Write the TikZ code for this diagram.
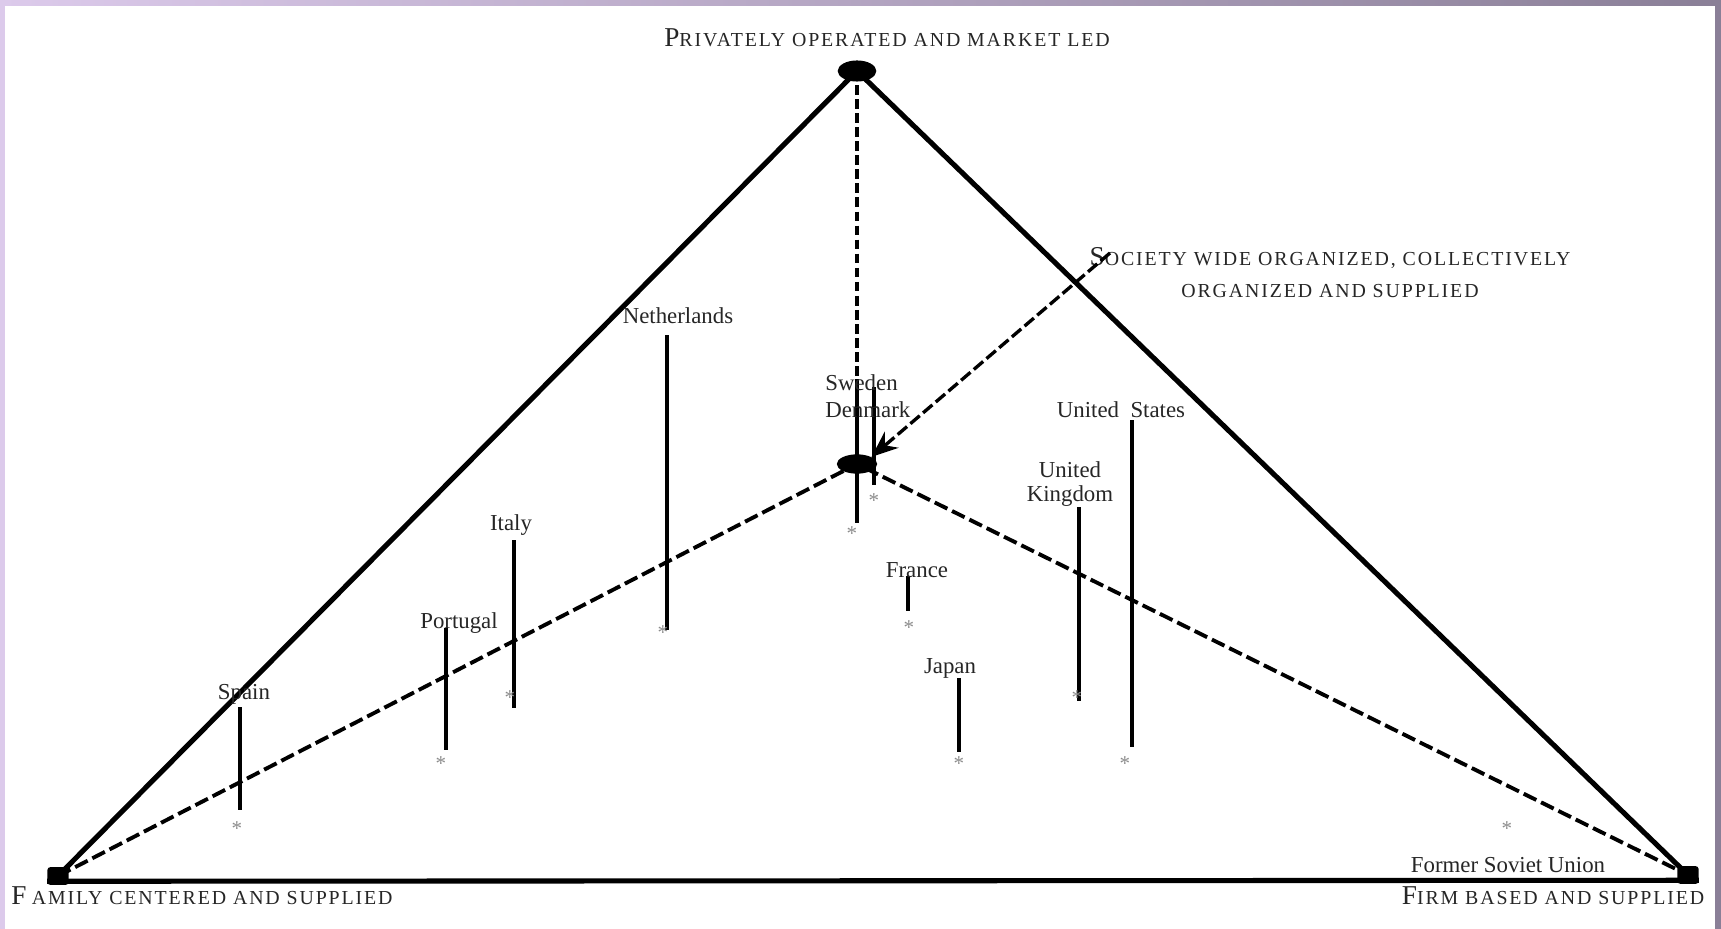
\documentclass[tikz,border=0pt]{standalone}
\usepackage{amsmath, amssymb}
\usepackage{fontspec}
\setmainfont{Liberation Serif}
\newfontfamily\spacedfont[LetterSpace=9.5]{Liberation Serif}
\usepackage{tikz}
\usepackage{xcolor}
\usetikzlibrary{shapes,arrows.meta,positioning,calc}
\definecolor{frameleft}{HTML}{DCCAEB}
\definecolor{frameright}{HTML}{8A7F97}
\definecolor{stargray}{HTML}{8C8C8C}
\definecolor{inkgray}{HTML}{262626}
\newcommand{\capsline}[2]{{\fontsize{15.5}{18.5}\spacedfont #1}{\fontsize{11.3}{18.5}\spacedfont #2}}

\begin{document}
\begin{tikzpicture}[x=0.02cm, y=-0.02cm, font=\fontsize{13}{15}\selectfont, text=inkgray,
    edge/.style={line width=2.9pt},
    dashedge/.style={line width=2.2pt, dash pattern=on 8pt off 3pt},
    axisedge/.style={line width=1.8pt, dash pattern=on 5.5pt off 2.5pt},
    bar/.style={line width=2pt},
    pointer/.style={line width=1.9pt, dash pattern=on 7pt off 2.5pt, -{Stealth[length=15pt,width=12pt]}},
    blob/.style={ellipse, fill, inner sep=0pt, minimum width=23pt, minimum height=11pt},
    corner/.style={rectangle, rounded corners=1.5pt, fill, inner sep=0pt, minimum width=12pt, minimum height=10pt},
    country/.style={anchor=base, inner sep=0pt},
    starmark/.style={text=stargray, inner sep=0pt, font=\fontsize{12}{13}\selectfont},
    pole/.style={inner sep=0pt, align=center}]
        \useasboundingbox (0,0) rectangle (1721,929);
        \shade[left color=frameleft, right color=frameright] (0,0) rectangle (1721,929);
        \fill[white] (5,6) rectangle (1715,929);
        \node[blob, minimum width=22pt, minimum height=12pt] (priv) at (857,71) {};
        \node[blob] (soc) at (857,464) {};
        \node[corner] (fam) at (58,876) {};
        \node[corner] (firm) at (1688,875) {};
        \draw[edge] (fam.center) -- (priv.center) -- (firm.center);
        \draw[edge] ([yshift=-3pt]fam.west) -- ([yshift=-3pt]firm.east);
        \draw[dashedge] (fam.center) -- (soc.center) -- (firm.center);
        \draw[axisedge] (priv.center) -- (soc.center);
        \node[pole, anchor=base] (privlab) at (887,47) {\capsline{P}{RIVATELY OPERATED AND MARKET LED}};
        \node[pole, anchor=base] (famlab) at (202,904) {\capsline{F\hspace{3pt}}{AMILY CENTERED AND SUPPLIED}};
        \node[pole, anchor=base] (firmlab) at (1553,904) {\capsline{F}{IRM BASED AND SUPPLIED}};
        \node[pole, anchor=north, font=\fontsize{11.3}{18.5}\selectfont] (soclab) at (1330,247)
            {\capsline{S}{OCIETY WIDE ORGANIZED, COLLECTIVELY}\\{\spacedfont ORGANIZED AND SUPPLIED}};
        \coordinate (arrtail) at (1110,253);
        \draw[pointer] (arrtail) -- (soc.north east);
        \foreach \name/\x/\ytop/\ybot/\sx/\sy in {spain/240/707/810/237/826, portugal/446/628/750/441/761,
            italy/514/540/708/510/695, netherlands/667/335/630/663/630, sweden/857/379/523/852/531,
            denmark/874/387/485/874/498, france/908/576/611/909/625, japan/959/678/752/959/761,
            uk/1079/507/701/1077/695, us/1132/420/747/1125/761}
        {
            \coordinate (\name-top) at (\x,\ytop);
            \coordinate (\name-bot) at (\x,\ybot);
            \draw[bar] (\name-top) -- (\name-bot);
            \node[starmark] (\name-star) at (\sx,\sy+3) {*};
        }
        \node[starmark] (fsu-star) at (1507,829) {*};
        \node[country] (spain) at (244,699) {Spain};
        \node[country] (portugal) at (459,628) {Portugal};
        \node[country] (italy) at (511,530) {Italy};
        \node[country] (netherlands) at (678,323) {Netherlands};
        \node[country, anchor=base west] (sweden) at (825,390) {Sweden};
        \node[country, anchor=base west] (denmark) at (825,417) {Denmark};
        \node[country] (france) at (917,577) {France};
        \node[country] (japan) at (950,673) {Japan};
        \node[country, anchor=north, align=center, font=\fontsize{13}{14}\selectfont] (uk) at (1070,461) {United\\Kingdom};
        \node[country] (us) at (1121,417) {United\ \ States};
        \node[country] (fsu) at (1508,872) {Former Soviet Union};
\end{tikzpicture}
\end{document}
